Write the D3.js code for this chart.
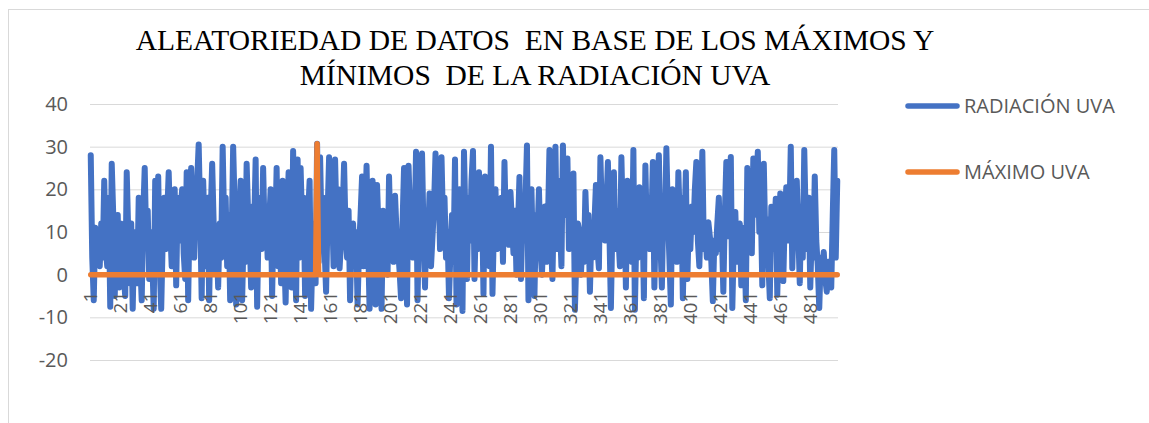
<!DOCTYPE html>
<html>
<head>
<meta charset="utf-8">
<script src="https://cdn.jsdelivr.net/npm/d3@7/dist/d3.min.js"></script>
<style>
  html, body { margin: 0; padding: 0; background: #fff; }
  svg { display: block; }
</style>
</head>
<body>
<svg id="chart" width="1149" height="423"></svg>
<script>
// ---- DATA ----
const titleLines = ["ALEATORIEDAD DE DATOS  EN BASE DE LOS MÁXIMOS Y", "MÍNIMOS  DE LA RADIACIÓN UVA"];
const seriesNames = ["RADIACIÓN UVA", "MÁXIMO UVA"];
const yTicks = [-20, -10, 0, 10, 20, 30, 40];
const xTickLabels = [1, 21, 41, 61, 81, 101, 121, 141, 161, 181, 201, 221, 241, 261, 281, 301, 321, 341, 361, 381, 401, 421, 441, 461, 481];

const radiacionUva = [
  28, 4, -6, 11, 3, 8, 2, 12, 4, 22,
  6, 2, 18, -7.5, 26, 14, -5, 8, 14, -3,
  12, 3, 0, -5, 24, 10, -2, 12, -8, 10,
  4, -2, 18, 3, -6, 14, 25, 8, 15, -1,
  10, 4, -8, 22, 11, 23, 2, -8, 8, 18,
  6, 14, 24, 11, 2, 12, 20, -2.5, 18, 8,
  16, 20, 5, -1, 24, -6, 16, 25, 11, 4,
  18, 22, 30.5, 14, -5.5, 22, 10, 2, 18, -6,
  14, 26, 12, 1, 8, -3, 12, 4, 30, 12,
  18, 2, 14, -6, 8, 30, 16, -7, 6, 12,
  22, -6, 10, 3, 26, 14, 9, -3, 16, 11,
  27, -7.5, 12, 18, 6, 25, 10, 16, 4, 12,
  20, -5, 14, 8, 25, 2, 13, -2, 22, 6,
  -6.5, 14, 24, 11, -3, 29, 9, -6, 27, 4,
  25, 12, 18, -5, 9, 14, 22, -8, 6, 12,
  -2, 30.7, 3, 27.5, 10, 18, 6, -4, 14, 27.5,
  8, 16, 2, 27, 12, 20, 1.5, 8, 14, 26,
  10, 4, 15, -6, 9, 12, 3, 10, -7, 6,
  14, 23, 2, 12, 25.5, 8, -8, 14, 22, 6,
  -7, 21, 10, 2, -8, 15, 4, 11, 0, 23,
  8, 16, 3, 18.5, 10, 6, 1, -5.5, 12, 25,
  9, -7, 25.5, 14, 19, 4, 10, 28.8, -6, 12,
  18, 28.4, 10, -3, 14, 8, 19, 2, 9, 16,
  28.4, 14, 22, 6, 27.5, 12, 18, 4, 10, -5.5,
  6, 14, 3, 27, -7, 12, 20, 8, -8.5, 28.8,
  12, -1, 18, 8, 22, 29, -1, 14, 6, 24,
  10, 18, -4.5, 23, 8, 16, 2, 30, -4.5, 12,
  20, 6, 14, 9, 18, 3, 26.4, 10, 16, 7,
  19.4, 12, 5, 15, 0, 11, 22.9, -1, 13, 8,
  17, 30.3, -6, 11, 20, 4, -5, 14, 9, 20,
  6, 0, 10, 16, 3, 12, 29.2, 8, -1, 18,
  30, 6, 22, 12, 2, 30.3, 14, 20, 27.2, 6,
  16, 9, 23.7, -8.2, 5, 12, 10, 0, 8, 3,
  19.4, 8, 14, -4, 10, 4, 12, 21, 6, 1.5,
  27.5, 14, 20, 8, 16, 26.4, 10, -7.8, 12, 24,
  6, 15, 9, 2, 27.5, 12, 18, -3, 22, 8,
  14, 3, 29.2, -8.2, 10, 4, 20.5, 11, 16, -5.5,
  25.6, 9, 18, 6, 12, 26.4, -3, 14, 20, 28,
  8, -3, 16, 10, 29.6, 14, 4, -7, 20, 9,
  15, 3, 24, 12, 18, -5.5, 10, 24, -1, 13,
  6, 16, 10, 20, 26.4, 8, 2, 14, 28.8, 6,
  10, 4, 12.3, 9, 3, -6.2, 8, 5, 12, 18,
  6, 10, -4, 14, 26.4, 9, 16, 27.6, -7.8, 8,
  14.7, 3, 10, 12, -2.5, 6, 11, -6, 25, 12,
  18, 5, 27.2, 14, 20, 28.8, 10, 16, -2.5, 26,
  8, 13, 3, -5.5, 15.9, 6, 11, 17.8, -4.7, 10,
  19, 5, -1.5, 14, 20.5, 8, 12, 30, 1.5, 14,
  8, 22, 10, -2, 16, 4, 29.2, 12, 6, 18,
  -3, 10, 4, 23, 8, 2, -7.8, 4, 1, 5.3,
  -1, -4, 3, 2, -3, 14, 29.2, 4, 22
];
// MÁXIMO UVA: zero everywhere except at the category holding the maximum
const maximoUvaPoints = [{ cat: 152, value: 30.7 }];

// ---- BUILD ----
const categories = radiacionUva.map((_, i) => i + 1);
const maximoUva = categories.map(c => {
  const p = maximoUvaPoints.find(d => d.cat === c);
  return p ? p.value : 0;
});

const colors = ["#4472C4", "#ED7D31"];
const textColor = "#595959";
const svg = d3.select("#chart");

svg.append("rect").attr("x", 0).attr("y", 0).attr("width", 1149).attr("height", 423).attr("fill", "#fff");
svg.append("rect").attr("x", 8.5).attr("y", 9.5).attr("width", 1300).attr("height", 600)
  .attr("fill", "none").attr("stroke", "#d9d9d9").attr("stroke-width", 1);

const plotLeft = 90, plotRight = 838, plotTop = 104, plotBottom = 360;
const x = d3.scaleBand().domain(categories).range([plotLeft, plotRight]).padding(0);
const y = d3.scaleLinear().domain([-20, 40]).range([plotBottom, plotTop]);
const cx = c => x(c) + x.bandwidth() / 2;

// Title
const title = svg.append("g").attr("font-family", "'Liberation Serif', 'Times New Roman', serif")
  .attr("font-size", 29.5).attr("fill", "#000").attr("text-anchor", "middle");
title.selectAll("text").data(titleLines).join("text")
  .attr("x", 535).attr("y", (d, i) => i === 0 ? 50 : 85)
  .style("white-space", "pre").attr("xml:space", "preserve")
  .text(d => d);

// Y axis + gridlines
const yAxis = svg.append("g").attr("transform", `translate(${plotLeft},0)`)
  .call(d3.axisLeft(y).tickValues(yTicks).tickSize(-(plotRight - plotLeft)).tickPadding(22)
    .tickFormat(d => String(d)));
yAxis.select(".domain").remove();
yAxis.selectAll(".tick line").attr("stroke", "#d9d9d9").attr("stroke-width", 1);
yAxis.selectAll(".tick text").attr("font-family", "'Open Sans', sans-serif").attr("font-size", 20)
  .attr("fill", textColor);

// Series lines
const line = d3.line().x((d, i) => cx(categories[i])).y(d => y(d));
svg.append("path").datum(radiacionUva).attr("d", line)
  .attr("fill", "none").attr("stroke", colors[0]).attr("stroke-width", 6)
  .attr("stroke-linejoin", "round").attr("stroke-linecap", "round");
svg.append("path").datum(maximoUva).attr("d", line)
  .attr("fill", "none").attr("stroke", colors[1]).attr("stroke-width", 5.5)
  .attr("stroke-linejoin", "round").attr("stroke-linecap", "round");

// X axis labels (rotated)
const xAxis = svg.append("g").attr("transform", `translate(0,${y(0)})`)
  .call(d3.axisBottom(x).tickValues(xTickLabels).tickSize(0));
xAxis.select(".domain").remove();
xAxis.selectAll(".tick text")
  .attr("transform", "rotate(-90)")
  .attr("text-anchor", "end")
  .attr("x", -17).attr("y", 0).attr("dy", "0.35em")
  .attr("font-family", "'Open Sans', sans-serif").attr("font-size", 19)
  .attr("fill", textColor);

// Legend
const legend = svg.append("g");
const legY = [106, 172];
seriesNames.forEach((name, i) => {
  legend.append("line").attr("x1", 908).attr("x2", 957).attr("y1", legY[i]).attr("y2", legY[i])
    .attr("stroke", colors[i]).attr("stroke-width", 5.5).attr("stroke-linecap", "round");
  legend.append("text").attr("x", 964).attr("y", legY[i] + 7)
    .attr("font-family", "'Open Sans', sans-serif").attr("font-size", 20)
    .attr("fill", textColor).text(name);
});
</script>
</body>
</html>
